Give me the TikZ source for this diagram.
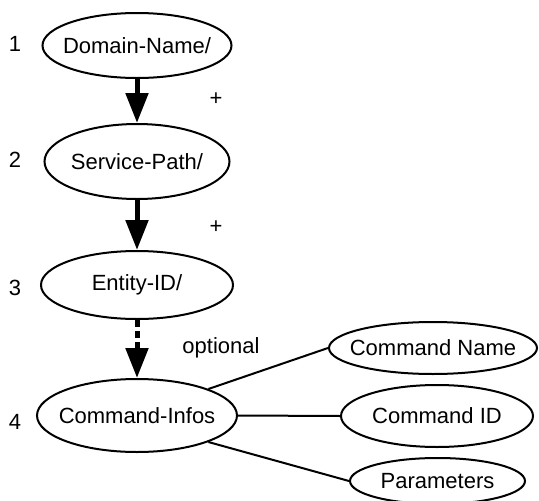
\documentclass[tikz,border=0pt]{standalone}
\usepackage{fontspec}
\setmainfont{Liberation Sans}
\usetikzlibrary{shapes.geometric,arrows.meta}
\newcommand{\ztxt}[1]{\makebox[0pt]{#1}}
\begin{document}
\begin{tikzpicture}[x=1pt,y=-1pt,
  every node/.style={font=\fontsize{22}{26}\selectfont},
  ell/.style={draw,ellipse,line width=2pt,inner sep=0pt},
  lbl/.style={inner sep=0pt},
  bigarrow/.style={line width=5pt,-{Triangle[length=30pt,width=22pt]}},
  conn/.style={line width=2pt}]
\useasboundingbox (0,0) rectangle (539,501);
\node[ell,minimum width=189pt,minimum height=65pt] (d) at (137,45.5) {\ztxt{Domain-Name/}};
\node[ell,minimum width=185pt,minimum height=75pt] (s) at (137,161.5) {\ztxt{Service-Path/}};
\node[ell,minimum width=192pt,minimum height=68pt] (e) at (137,285) {\ztxt{Entity-ID/}};
\node[ell,minimum width=200pt,minimum height=73pt] (ci) at (137,415.5) {\ztxt{Command-Infos}};
\node[ell,minimum width=208pt,minimum height=52pt] (cn) at (433,348) {\ztxt{Command Name}};
\node[ell,minimum width=192pt,minimum height=62pt] (cid) at (437,416) {\ztxt{Command ID}};
\node[ell,minimum width=175pt,minimum height=46pt] (par) at (437.5,481) {\ztxt{Parameters}};
\node[lbl] (n1) at (15,44) {1};
\node[lbl] (n2) at (15,160) {2};
\node[lbl] (n3) at (15,288) {3};
\node[lbl] (n4) at (15,422) {4};
\node[lbl] (p1) at (216,99) {+};
\node[lbl] (p2) at (216,227) {+};
\node[lbl] (opt) at (221,348) {optional};
\draw[bigarrow] (d.south) -- (s.north);
\draw[bigarrow] (s.south) -- (e.north);
\draw[bigarrow,dash pattern=on 7pt off 4pt] (e.south) -- (ci.north);
\draw[conn] (ci.north east) -- (cn.west);
\draw[conn] (ci.east) -- (cid.west);
\draw[conn] (ci.south east) -- (par.west);
\end{tikzpicture}
\end{document}
